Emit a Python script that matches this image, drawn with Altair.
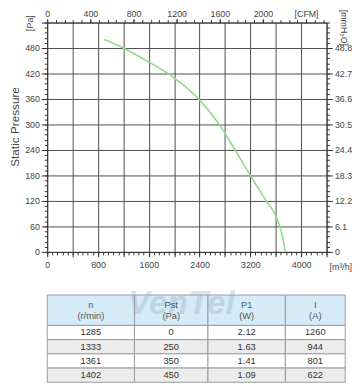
import altair as alt
import pandas as pd

# ---------------- data ----------------
flow_m3h = [900, 1200, 1600, 2000, 2400, 2700, 3000, 3200, 3450, 3600, 3700, 3750]
pressure_pa = [500, 480, 447, 410, 358, 302, 230, 180, 120, 85, 40, 0]

header_line1 = ["n", "Pst", "P1", "I"]
header_line2 = ["(r/min)", "(Pa)", "(W)", "(A)"]
speed_rpm = ["1285", "1333", "1361", "1402"]
pst_pa = ["0", "250", "350", "450"]
p1_w = ["2.12", "1.63", "1.41", "1.09"]
current_a = ["1260", "944", "801", "622"]

bottom_major = list(range(0, 4401, 400))
bottom_minor = list(range(0, 4401, 80))
left_major = list(range(0, 541, 60))
left_minor = list(range(0, 541, 12))
top_major = list(range(0, 2401, 400))
top_minor = list(range(0, 2590, 80))

# ---------------- layout / style ----------------
W, H = 285, 234
XMAX, YMAX = 4400, 540
M3H_PER_CFM = 1.699
FONT = "Liberation Sans"
TXT = "#444444"
LINE = "#333333"
GRID = "#4d4d4d"

col_edges = [0, 89, 164, 243, 304]
header_h, row_h = 31, 14.5
table_top = 278  # px below plot top
table_h = header_h + row_h * 4

curve = pd.DataFrame({"q": flow_m3h, "p": pressure_pa})

xs = alt.Scale(domain=[0, XMAX], nice=False, zero=False)
ys = alt.Scale(domain=[0, YMAX], nice=False, zero=False)
xcfm = alt.Scale(domain=[0, XMAX / M3H_PER_CFM], nice=False, zero=False)

lab = dict(labelFont=FONT, labelFontSize=9, labelColor=TXT, labelOverlap=False,
           labelFlush=False, tickColor=LINE, domainColor=LINE)

main = alt.Chart(curve).mark_line(color="#8edc8a", strokeWidth=1.6, interpolate="monotone").encode(
    x=alt.X("q:Q", scale=xs, axis=alt.Axis(
        orient="bottom", values=bottom_major, format="d",
        labelExpr="datum.value % 800 == 0 && datum.value <= 4000 ? datum.label : ''",
        grid=True, gridColor=GRID, gridWidth=1, tickSize=5, labelPadding=4, title=None, **lab)),
    y=alt.Y("p:Q", scale=ys, axis=alt.Axis(
        orient="left", values=left_major, format="d",
        labelExpr="datum.value <= 480 ? datum.label : ''",
        grid=True, gridColor=GRID, gridWidth=1, tickSize=6, labelPadding=2,
        title="Static Pressure", titleFont=FONT, titleFontSize=12, titleFontWeight="normal",
        titleColor=TXT, titleX=-33, titleY=106, titleAngle=-90, titleAlign="center",
        titleBaseline="middle", **lab)),
)

minor_bl = alt.Chart(curve).mark_point(opacity=0).encode(
    x=alt.X("q:Q", scale=xs, axis=alt.Axis(
        orient="bottom", values=bottom_minor, labels=False, grid=False, domain=False,
        tickSize=3, tickColor=LINE,
        title="[m³/h]", titleX=299, titleY=15, titleAngle=0, titleAlign="center",
        titleBaseline="middle", titleFont=FONT, titleFontSize=9, titleFontWeight="normal",
        titleColor=TXT)),
    y=alt.Y("p:Q", scale=ys, axis=alt.Axis(
        orient="left", values=left_minor, labels=False, grid=False, domain=False,
        tickSize=3, tickColor=LINE,
        title="[Pa]", titleX=-18, titleY=0, titleAngle=-90, titleAlign="center",
        titleBaseline="middle", titleFont=FONT, titleFontSize=9, titleFontWeight="normal",
        titleColor=TXT)),
)

top_right = alt.Chart(curve).transform_calculate(cfm=f"datum.q / {M3H_PER_CFM}").mark_point(opacity=0).encode(
    x=alt.X("cfm:Q", scale=xcfm, axis=alt.Axis(
        orient="top", values=top_major, format="d",
        labelExpr="datum.value == 2400 ? '[CFM]' : datum.label",
        grid=False, tickSize=4, labelPadding=0, title=None, **lab)),
    y=alt.Y("p:Q", scale=ys, axis=alt.Axis(
        orient="right", values=left_major[:-1],
        labelExpr="datum.value == 0 ? '0' : format(datum.value / 60 * 6.1, '.1f')",
        grid=False, tickSize=6, labelPadding=2,
        title="[mmH₂O]", titleX=17, titleY=5, titleAngle=90, titleAlign="center",
        titleBaseline="middle", titleFont=FONT, titleFontSize=9, titleFontWeight="normal",
        titleColor=TXT, **lab)),
)

minor_tr = alt.Chart(curve).transform_calculate(cfm=f"datum.q / {M3H_PER_CFM}").mark_point(opacity=0).encode(
    x=alt.X("cfm:Q", scale=xcfm, axis=alt.Axis(
        orient="top", values=top_minor, labels=False, grid=False, domain=False,
        tickSize=3, tickColor=LINE, title=None)),
    y=alt.Y("p:Q", scale=ys, axis=alt.Axis(
        orient="right", values=left_minor, labels=False, grid=False, domain=False,
        tickSize=3, tickColor=LINE, title=None)),
)

# ---------------- table ----------------
columns = [speed_rpm, pst_pa, p1_w, current_a]
cells, texts = [], []
for c in range(4):
    x0, x1 = col_edges[c], col_edges[c + 1]
    xm = (x0 + x1) / 2
    cells.append({"x0": x0, "x1": x1, "y0": 0, "y1": header_h, "fill": "#d5ebf7"})
    texts.append({"x": xm, "y": header_h / 2 - 5.5, "t": header_line1[c], "kind": "h"})
    texts.append({"x": xm, "y": header_h / 2 + 5.5, "t": header_line2[c], "kind": "h"})
    for r in range(4):
        y0 = header_h + r * row_h
        cells.append({"x0": x0, "x1": x1, "y0": y0, "y1": y0 + row_h,
                      "fill": "#ffffff" if r % 2 == 0 else "#ececec"})
        texts.append({"x": xm, "y": y0 + row_h / 2, "t": columns[c][r], "kind": "d"})
cells = pd.DataFrame(cells)
texts = pd.DataFrame(texts)

tx = alt.Scale(domain=[0, col_edges[-1]], range=[0, col_edges[-1]], nice=False, zero=False)
ty = alt.Scale(domain=[0, table_h], range=[table_top, table_top + table_h], nice=False, zero=False)

table_cells = alt.Chart(cells).mark_rect(stroke="#9a9a9a", strokeWidth=1).encode(
    x=alt.X("x0:Q", scale=tx, axis=None), x2="x1:Q",
    y=alt.Y("y0:Q", scale=ty, axis=None), y2="y1:Q",
    fill=alt.Fill("fill:N", scale=None),
)

watermark = alt.Chart(pd.DataFrame({"x": [137], "y": [9], "t": ["VenTel"]})).mark_text(
    font=FONT, fontSize=34, fontWeight="bold", fontStyle="italic", color="#8aa6c0", opacity=0.3
).encode(
    x=alt.X("x:Q", scale=tx, axis=None), y=alt.Y("y:Q", scale=ty, axis=None), text="t:N")

header_text = alt.Chart(texts[texts.kind == "h"]).mark_text(
    font=FONT, fontSize=9.5, color="#555555", baseline="middle"
).encode(x=alt.X("x:Q", scale=tx, axis=None), y=alt.Y("y:Q", scale=ty, axis=None), text="t:N")

body_text = alt.Chart(texts[texts.kind == "d"]).mark_text(
    font=FONT, fontSize=9.5, color="#333333", baseline="middle"
).encode(x=alt.X("x:Q", scale=tx, axis=None), y=alt.Y("y:Q", scale=ty, axis=None), text="t:N")

chart = alt.layer(
    main, minor_bl, top_right, minor_tr, table_cells, watermark, header_text, body_text
).resolve_scale(x="independent", y="independent").resolve_axis(
    x="independent", y="independent"
).properties(
    width=W, height=H,
    autosize=alt.AutoSizeParams(type="none"),
    padding={"left": 40, "top": 11, "right": 28, "bottom": 135},
    background="white",
).configure_view(stroke=None)

chart.save("out.html", embed_options={"renderer": "svg", "actions": False})
